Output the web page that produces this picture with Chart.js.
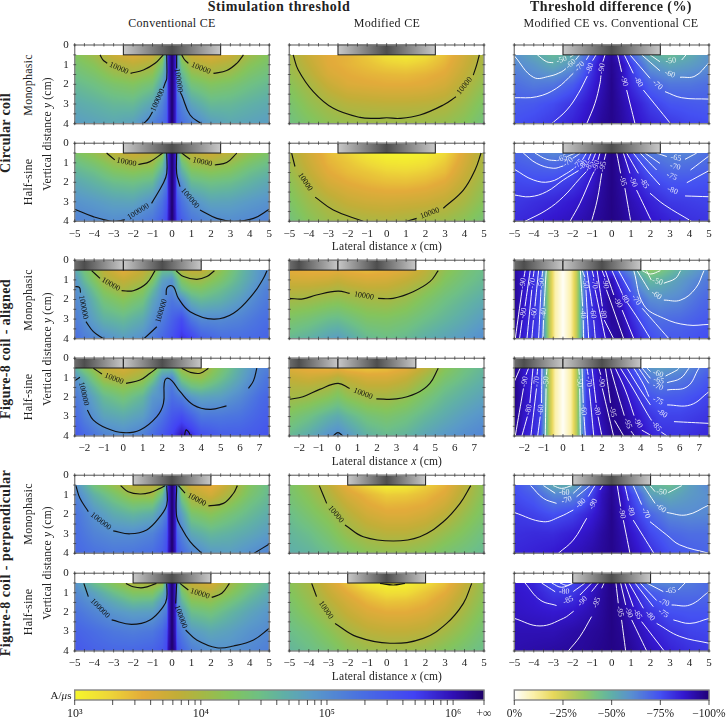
<!DOCTYPE html>
<html><head><meta charset="utf-8">
<script src="https://cdn.jsdelivr.net/npm/chart.js@4"></script>
<style>
html,body{margin:0;padding:0;background:#fff}
#page{position:relative;width:726px;height:719px;overflow:hidden;font-family:"Liberation Serif",serif;color:#222}
canvas{position:absolute}
.t{position:absolute;white-space:nowrap;transform:translate(-50%,-50%)}
.r{transform:translate(-50%,-50%) rotate(-90deg)}
</style></head><body><div id="page"></div>
<script>
// ---------- axes / categories ----------
const xTicksSym=[-5,5], xTicksAligned=[-2.5,7.5];
const rowNames=['Monophasic','Half-sine','Monophasic','Half-sine','Monophasic','Half-sine'];
const columnNames=['Conventional CE','Modified CE','Modified CE vs. Conventional CE'];
const coilNames=['Circular coil','Figure-8 coil - aligned','Figure-8 coil - perpendicular'];
const coilCircular=[[-2.5,2.5,0,2.5]];
const coilAligned=[[-2.5,0,-2,2],[0,4,2,2]];
const coilPerp=[[-2,2,0,2]];
const thresholdTicks=[1e3,2e3,3e3,4e3,5e3,6e3,7e3,8e3,9e3,1e4,2e4,3e4,4e4,5e4,6e4,7e4,8e4,9e4,1e5,2e5,3e5,4e5,5e5,6e5,7e5,8e5,9e5,1e6,1758000];
const thresholdLabels={1000:'10³',10000:'10⁴',100000:'10⁵',1000000:'10⁶',1758000:'+∞'};
const differenceTicks=[0,-25,-50,-75,-100];
const thresholdStops=[[0,'#f6f72c'],[.08,'#eed838'],[.17,'#e3ab3a'],[.25,'#c2ae38'],[.31,'#a6b845'],[.38,'#84c45c'],[.45,'#6fc084'],[.51,'#60b0a6'],[.58,'#5a9ac8'],[.7,'#4a70e2'],[.83,'#4242f4'],[.925,'#3010b4'],[1,'#1e0068']];
const differenceStops=[[0,'#ffffff'],[.1,'#fbf0a8'],[.2,'#e8d85c'],[.27,'#c6cc58'],[.36,'#96c864'],[.43,'#74c288'],[.5,'#60b0a8'],[.6,'#5a90d0'],[.75,'#4450f2'],[.87,'#3418d0'],[1,'#200078']];

// ---------- heat grids ----------
const ysT=[.5,1,1.5,2,3,4];
const ysD=[.5,1,2,3,4];
const xsC=[-5,-4,-3,-2,-1,-.5,-.27,-.2,0,.2,.27,.5,1,2,3,4,5];
const xsA=[-2.5,-2,-1,0,1,1.5,2,2.5,3,3.5,4,5,6,7,7.5];
const xsM=[-5,-4,-3,-2,-1,0,1,2,3,4,5];
const xsB=[-2.5,-1.5,-.5,0,.5,1.5,2.5,3.5,4.5,5.5,6.5,7.5];
const xsD=[-5,-4,-3,-2,-1.5,-1,-.5,0,.5,1,1.5,2,3,4,5];
const xsE=[-2.5,-2,-1.5,-1.2,-.9,-.7,-.4,0,.4,.7,.9,1.2,1.5,2,2.5,3,3.5,4,4.5,5,6,7,7.5];
const logCircMonoConv=[
[4.25,4.05,3.75,3.6,3.75,4.0,5.0,5.85,6.24,5.85,5.0,4.0,3.75,3.6,3.75,4.05,4.25],
[4.35,4.2,3.95,3.85,3.95,4.35,5.0,5.85,6.24,5.85,5.0,4.35,3.95,3.85,3.95,4.2,4.35],
[4.45,4.33,4.13,4.03,4.18,4.6,5.0,5.85,6.24,5.85,5.0,4.6,4.18,4.03,4.13,4.33,4.45],
[4.55,4.45,4.32,4.25,4.4,4.8,5.15,5.85,6.24,5.85,5.1,4.78,4.4,4.25,4.32,4.45,4.55],
[4.72,4.65,4.57,4.55,4.78,5.1,5.35,5.85,6.24,5.85,5.35,5.1,4.78,4.55,4.57,4.65,4.72],
[4.85,4.8,4.75,4.82,5.1,5.3,5.45,5.85,6.24,5.85,5.45,5.3,5.1,4.85,4.75,4.8,4.85]];
const logCircHalfConv=[
[4.3,4.12,3.88,3.72,3.85,4.02,5.0,5.85,6.24,5.85,5.0,4.02,3.85,3.72,3.88,4.12,4.3],
[4.48,4.32,4.1,3.98,4.05,4.45,5.0,5.85,6.24,5.85,5.0,4.45,4.05,3.98,4.1,4.32,4.48],
[4.62,4.5,4.3,4.22,4.32,4.7,5.0,5.85,6.24,5.85,5.0,4.7,4.32,4.22,4.3,4.5,4.62],
[4.75,4.63,4.5,4.45,4.55,4.95,5.2,5.85,6.24,5.85,5.2,4.95,4.55,4.45,4.5,4.63,4.75],
[4.95,4.88,4.8,4.78,4.97,5.25,5.5,5.85,6.24,5.85,5.5,5.25,4.97,4.78,4.8,4.88,4.95],
[5.1,5.05,5.0,5.05,5.22,5.45,5.65,5.9,6.24,5.9,5.65,5.45,5.22,5.05,5.0,5.05,5.1]];
const logCircMonoMod=[
[4.0,3.75,3.55,3.5,3.35,3.18,3.1,3.2,3.42,3.7,3.98],
[4.05,3.82,3.58,3.5,3.42,3.32,3.28,3.35,3.5,3.75,4.02],
[4.12,3.9,3.65,3.55,3.5,3.47,3.45,3.5,3.58,3.82,4.07],
[4.2,4.0,3.77,3.62,3.58,3.55,3.55,3.58,3.68,3.9,4.15],
[4.35,4.15,4.0,3.9,3.87,3.85,3.85,3.87,3.92,4.08,4.3],
[4.45,4.3,4.17,4.1,4.08,4.08,4.08,4.08,4.12,4.23,4.42]];
const logCircHalfMod=[
[3.97,3.7,3.45,3.3,3.12,3.03,3.02,3.06,3.25,3.62,3.97],
[4.03,3.75,3.5,3.38,3.25,3.15,3.13,3.18,3.35,3.68,4.0],
[4.1,3.82,3.57,3.45,3.38,3.3,3.28,3.33,3.45,3.75,4.05],
[4.18,3.92,3.67,3.55,3.48,3.43,3.42,3.47,3.58,3.83,4.1],
[4.3,4.08,3.92,3.78,3.72,3.7,3.72,3.75,3.83,4.0,4.22],
[4.42,4.22,4.08,4.02,3.98,3.95,3.99,4.03,4.08,4.2,4.38]];
const logAlignMonoConv=[
[4.75,4.4,3.85,3.55,3.8,3.97,4.5,4.5,3.9,3.8,3.8,4.15,4.55,4.9,5.02],
[4.95,4.55,3.97,3.8,3.95,4.25,4.8,4.95,4.25,4.05,4.05,4.3,4.62,4.93,5.05],
[5.02,4.75,4.2,3.98,4.2,4.55,4.95,5.05,4.55,4.35,4.3,4.5,4.72,5.03,5.15],
[5.05,4.88,4.38,4.2,4.4,4.75,5.0,5.2,5.0,4.65,4.55,4.65,4.85,5.1,5.2],
[5.15,4.98,4.65,4.55,4.72,4.97,5.15,5.4,5.6,5.2,5.03,5.02,5.1,5.25,5.3],
[5.3,5.15,4.98,4.85,4.98,5.15,5.35,5.55,5.8,5.7,5.45,5.3,5.3,5.35,5.4]];
const logAlignHalfConv=[
[4.65,4.3,3.8,3.65,3.85,3.98,4.5,4.5,4.0,3.9,3.88,4.3,4.7,5.05,5.15],
[4.97,4.65,4.0,3.88,4.05,4.35,4.9,5.05,4.35,4.15,4.1,4.45,4.78,5.12,5.25],
[5.1,4.85,4.32,4.15,4.35,4.7,5.0,5.2,4.75,4.5,4.45,4.65,4.9,5.2,5.3],
[5.18,5.0,4.55,4.38,4.6,4.9,4.97,5.3,5.15,4.9,4.8,4.85,5.03,5.3,5.38],
[5.35,5.12,4.8,4.72,4.85,5.05,5.25,5.5,5.6,5.4,5.2,5.2,5.25,5.4,5.45],
[5.5,5.35,5.1,5.02,5.12,5.3,5.5,5.7,6.0,5.85,5.6,5.45,5.45,5.5,5.55]];
const logAlignMonoMod=[
[3.55,3.5,3.5,3.55,3.5,3.45,3.5,3.6,3.85,4.15,4.35,4.5],
[3.7,3.68,3.72,3.78,3.72,3.65,3.68,3.8,3.95,4.25,4.42,4.55],
[3.87,3.88,3.93,3.97,3.92,3.85,3.85,3.95,4.15,4.35,4.5,4.62],
[4.02,4.05,4.12,4.15,4.1,4.03,4.0,4.1,4.28,4.45,4.58,4.7],
[4.3,4.38,4.5,4.52,4.45,4.3,4.28,4.35,4.48,4.6,4.72,4.85],
[4.55,4.65,4.8,4.85,4.75,4.55,4.48,4.55,4.68,4.78,4.88,5.0]];
const logAlignHalfMod=[
[3.6,3.5,3.45,3.5,3.42,3.38,3.42,3.55,3.85,4.2,4.42,4.58],
[3.8,3.72,3.8,3.9,3.78,3.65,3.65,3.78,4.05,4.32,4.5,4.65],
[3.93,3.92,4.0,4.12,3.98,3.85,3.85,3.95,4.2,4.45,4.6,4.72],
[4.02,4.07,4.2,4.3,4.17,4.03,4.02,4.13,4.35,4.55,4.68,4.8],
[4.3,4.45,4.65,4.72,4.6,4.4,4.32,4.42,4.58,4.72,4.85,4.95],
[4.55,4.72,4.95,5.02,4.9,4.65,4.55,4.62,4.78,4.9,5.0,5.08]];
const logPerpMonoConv=[
[5.0,4.4,4.1,3.85,3.85,3.98,5,5.85,6.24,5.85,5,4.0,3.7,3.5,3.85,4.25,4.5],
[5.1,4.65,4.35,4.05,4.03,4.5,5,5.85,6.24,5.85,5,4.3,3.9,3.7,4.0,4.33,4.55],
[5.2,4.8,4.55,4.35,4.4,4.8,5,5.85,6.24,5.85,5,4.6,4.1,3.97,4.2,4.45,4.62],
[5.25,4.95,4.72,4.6,4.7,5.0,5.2,5.85,6.24,5.85,5.05,4.85,4.35,4.2,4.38,4.55,4.7],
[5.3,5.1,5.0,5.0,5.1,5.3,5.5,5.85,6.24,5.85,5.35,5.1,4.75,4.58,4.65,4.75,4.87],
[5.35,5.25,5.2,5.22,5.3,5.45,5.6,5.9,6.24,5.9,5.5,5.35,5.1,4.88,4.85,4.97,5.08]];
const logPerpHalfConv=[
[4.95,4.5,4.2,3.95,3.95,4.05,5,5.85,6.24,5.85,5,4.02,3.78,3.65,4.02,4.35,4.6],
[5.05,4.8,4.5,4.25,4.25,4.6,5,5.85,6.24,5.85,5,4.4,4.0,3.92,4.2,4.5,4.72],
[5.15,4.95,4.75,4.55,4.6,4.9,5,5.85,6.24,5.85,5,4.65,4.25,4.18,4.42,4.65,4.82],
[5.25,5.08,4.92,4.83,4.85,5.05,5.2,5.85,6.24,5.85,5.1,4.9,4.5,4.4,4.6,4.78,4.92],
[5.4,5.3,5.2,5.15,5.2,5.35,5.55,5.9,6.24,5.9,5.35,5.15,4.88,4.75,4.83,4.95,5.03],
[5.5,5.4,5.35,5.35,5.4,5.5,5.65,6.0,6.24,6.0,5.55,5.4,5.15,4.98,4.97,5.05,5.15]];
const logPerpMonoMod=[
[4.32,4.1,3.85,3.5,3.25,3.05,3.1,3.3,3.5,3.85,4.2],
[4.36,4.18,3.95,3.65,3.48,3.33,3.35,3.45,3.6,3.92,4.22],
[4.42,4.25,4.05,3.78,3.58,3.48,3.5,3.55,3.72,4.0,4.28],
[4.5,4.33,4.15,3.9,3.7,3.6,3.6,3.68,3.85,4.1,4.32],
[4.6,4.5,4.33,4.1,3.95,3.88,3.88,3.95,4.12,4.28,4.45],
[4.68,4.62,4.5,4.33,4.2,4.15,4.15,4.22,4.35,4.45,4.55]];
const logPerpHalfMod=[
[4.2,4.0,3.7,3.4,3.12,3.02,3.05,3.2,3.42,3.78,4.15],
[4.25,4.07,3.8,3.55,3.35,3.2,3.22,3.38,3.55,3.87,4.17],
[4.32,4.13,3.9,3.68,3.5,3.4,3.42,3.5,3.68,3.95,4.22],
[4.38,4.2,4.0,3.78,3.62,3.55,3.55,3.62,3.78,4.03,4.28],
[4.5,4.38,4.2,4.0,3.87,3.82,3.82,3.87,4.02,4.2,4.4],
[4.6,4.5,4.38,4.2,4.1,4.07,4.07,4.12,4.25,4.38,4.5]];
const diffCircMono=[
[60,53,47,52,64,75,87,95,85,71,60,50,46,51,59],
[62,58,52,58,68,80,91,96,91,79,68,58,53,56,60],
[68,65,66,72,78,85,91,97,91,83,77,71,66,66,68],
[72,73,76,81,85,89,93,97,93,88,84,79,74,73,72],
[75,77,80,85,88,91,95,97,94,90,87,84,80,77,76]];
const diffCircHalf=[
[70,66,62,65,71,80,92,98,93,79,68,65,63,63,69],
[72,70,68,71,77,85,93,98,93,84,76,70,66,67,69],
[77,76,77,80,84,88,94,98,94,87,83,78,74,74,75],
[80,82,84,87,89,92,95,98,95,91,88,85,80,79,78],
[83,85,88,90,92,94,96,98,96,93,91,88,85,82,81]];
const diffPerpMono=[
[75,67,52,52,62,73,87,96,86,69,58,49,45,55,62],
[76,72,62,62,68,78,90,96,90,78,68,55,52,57,60],
[80,78,75,78,82,86,91,97,91,83,76,70,62,61,62],
[82,83,83,86,88,90,94,97,93,88,83,77,70,68,68],
[84,85,87,90,91,93,95,97,94,91,87,82,75,72,70]];
const diffPerpHalf=[
[87,84,75,77,81,87,93,98,92,82,72,63,62,65,69],
[88,86,80,80,84,89,94,98,93,87,80,73,68,68,69],
[89,88,87,88,90,92,95,98,95,90,85,81,75,74,74],
[91,91,91,93,94,95,96,98,96,93,90,86,81,78,77],
[92,93,94,95,95,96,97,98,97,95,92,90,85,82,80]];
const diffAlignMono=[
[94,88,82,78,50,30,10,1,10,27,48,76,82,88,79,68,60,45,37,40,50,58,62],
[95,88,82,78,50,30,10,1,10,28,48,76,82,88,91,78,68,55,47,49,56,63,66],
[96,88,82,78,50,30,10,1,10,28,48,76,82,90,95,88,77,68,61,60,62,68,70],
[96,87,82,78,50,30,10,1,10,28,48,76,82,88,95,93,84,76,70,68,69,72,73],
[95,85,80,77,50,30,10,1,10,28,48,76,80,85,93,96,90,82,76,73,73,75,76]];
const diffAlignHalf=[
[97,88,84,80,52,30,10,1,10,30,52,78,82,96,92,84,77,67,58,56,59,66,70],
[97,88,84,80,52,30,10,1,10,30,52,78,84,92,96,88,80,73,65,62,65,70,73],
[98,90,84,80,52,30,10,1,10,30,52,78,84,92,97,93,86,80,74,72,73,76,78],
[98,88,84,80,52,30,10,1,10,30,52,78,84,92,97,96,91,86,81,78,78,80,81],
[97,87,83,79,51,30,10,1,10,30,52,78,83,90,96,97,95,90,85,82,81,83,84]];

// ---------- contour lines: [level, segment, segment after the label gap] ----------
const cCircMonoConv=[
['10000',[[-3.7,.5],[-3.55,.75],[-3.33,.93]],[[-2.13,1.44],[-1.47,1.27],[-.87,.93],[-.45,.5]]],
['10000',[[.5,.5],[.65,.75],[.84,.93]],[[2.13,1.44],[2.81,1.3],[3.33,.93],[3.67,.5]]],
['100000',[[-.27,.5],[-.27,1.7],[-.36,1.95],[-.45,2.2]],[[-1,3.4],[-1.2,3.73],[-1.47,4]]],
['100000',[[.24,.5],[.24,1.2]],[[.42,2.4],[.5,2.54],[.93,3.56],[1.5,4]]]];
const cCircHalfConv=[
['10000',[[-3.36,.5],[-2.94,.85]],[[-1.73,1.09],[-1.13,.94],[-.48,.5]]],
['10000',[[.5,.5],[.93,.82]],[[2.2,1.11],[2.81,.99],[3.33,.5]]],
['100000',[[-5,3.38],[-4.05,3.76],[-3.02,4],[-2.42,3.93]],[[-1.05,3.08],[-.45,2.05],[-.27,1.54],[-.27,.5]]],
['100000',[[.24,.5],[.24,1.54],[.41,2.22]],[[1.44,3.42],[2.3,3.85],[3.16,4],[4.19,3.85],[5,3.38]]]];
const cCircMonoMod=[
['10000',[[-4.8,.5],[-4.54,1.27],[-3.77,2.37],[-2.74,3.22],[-1.37,3.68],[-.5,3.73],[0,3.7],[.68,3.73],[1.71,3.56],[2.91,3.05],[3.56,2.63]],[[4.45,1.53],[4.62,1.02],[4.76,.5]]]];
const cCircHalfMod=[
['10000',[[-4.88,.5],[-4.71,1.19]],[[-3.67,2.76],[-2.74,3.42],[-1.2,4]]],
['10000',[[1.03,4],[1.54,3.85]],[[2.91,3.33],[3.94,2.4],[4.54,1.37],[4.85,.5]]]];
const cAlignMonoConv=[
['10000',[[-1.63,.53],[-1.2,.92]],[[-.09,1.55],[.51,1.55],[1.2,1.17],[1.63,.53]]],
['',[[2.71,.53],[3.09,.83],[3.77,.97],[4.29,.83],[4.68,.53]]],
['100000',[[-2.5,1.34],[-2.26,1.38],[-2.2,1.65]],[[-1.92,3.13],[-1.54,3.64],[-1.03,4]]],
['100000',[[1.06,4],[1.72,3.39]],[[2.2,1.77],[2.23,1.43],[2.4,1.29],[2.6,1.38],[2.83,1.94],[3.43,2.62],[4.63,3.0],[5.66,2.7],[6.69,1.69],[7.2,.92],[7.38,.53]]]];
const cAlignHalfConv=[
['10000',[[-1.54,.51],[-1.1,.81]],[[.14,1.29],[.86,1.12],[1.37,.77],[1.71,.51]]],
['',[[3,.51],[3.43,.72],[3.95,.77],[4.37,.51]]],
['100000',[[-2.5,1.15],[-2.23,.98]],[[-1.85,2.66],[-1.54,3.18],[-.86,3.6],[0,3.83],[.86,3.69],[1.72,3],[2.06,2.32],[2.1,1.29],[2.23,1.03],[2.49,1.15],[2.92,1.72],[3.6,2.4],[4.46,2.63],[5.3,2.45]],[[6.43,1.55],[6.69,1.15],[6.86,.51]]],
['',[[3.14,4],[3.22,3.69],[3.34,3.78],[3.46,4]]]];
const cAlignMonoMod=[
['10000',[[-2.5,1.94],[-1.8,1.97],[-1.11,1.77],[0,1.57],[.6,1.69]],[[2.06,1.94],[2.83,1.94],[3.86,1.6],[4.72,1.09],[5.15,.53]]]];
const cAlignHalfMod=[
['10000',[[-2.5,2.11],[-1.8,1.98],[-.94,1.6],[0,1.29],[.6,1.55]],[[1.97,2.09],[3,2.09],[4.03,1.8],[4.72,1.29],[5.15,.51]]],
['',[[-.26,4],[0,3.83],[.26,4]]]];
const cPerpMonoConv=[
['',[[-2.64,.53],[-2.25,.84],[-1.65,.96],[-1.13,.89],[-.62,.67],[-.36,.53]]],
['10000',[[.33,.53],[.67,.92]],[[1.87,1.57],[2.64,1.44],[3.16,.92],[3.36,.53]]],
['100000',[[-4.94,.53],[-4.73,1.18],[-4.3,1.86]],[[-3.02,2.85],[-2.16,3],[-1.3,2.8],[-.62,2.12],[-.27,1.52],[-.27,.53]]],
['',[[.24,.53],[.24,2.12],[.5,2.72],[.93,3.4],[1.53,4]]],
['',[[4.22,4],[5,3.52]]]];
const cPerpHalfConv=[
['',[[-2.37,.52],[-2,.69],[-1.48,.74],[-.8,.52]]],
['10000',[[.41,.52],[.84,.86]],[[2.04,1.24],[2.56,1.03],[2.95,.52]]],
['100000',[[-4.53,.52],[-4.3,1.2]],[[-3.1,2.4],[-2.08,2.63],[-1.13,2.4],[-.45,1.72],[-.27,1.29],[-.27,.52]]],
['100000',[[.24,.52],[.19,1.55]],[[.7,2.92],[1.27,3.43],[2.3,3.83],[3.16,3.74],[4.19,3.43],[5,2.83]]]];
const cPerpMonoMod=[
['10000',[[-3.46,.53],[-3.08,1.44]],[[-2.14,2.55],[-1.2,3.15],[.34,3.37],[1.71,3.15],[2.91,2.38],[3.77,1.44],[4.32,.53]]]];
const cPerpHalfMod=[
['10000',[[-3.85,.52],[-3.6,1.2]],[[-2.65,2.58],[-1.54,3.26],[.17,3.6],[1.88,3.35],[3.08,2.58],[3.94,1.55],[4.37,.52]]],
['',[[-.34,.52],[.34,.6],[.94,.52]]]];
const cDiffCircMono=[
['-50',[[-3.82,.5],[-3.34,.85],[-3,.9]],[[-2.14,.62],[-1.95,.5]]],
['-60',[[-5,.55],[-4.02,1.64],[-3.17,1.58],[-2.57,1.36],[-2.35,1.2]],[[-1.85,.75],[-1.65,.5]]],
['-70',[[-5,2.68],[-3.85,2.63],[-2.83,2.2],[-1.97,1.44]],[[-1.3,.75],[-1.15,.5]]],
['-80',[[-3.08,4],[-2.3,3.3],[-1.71,2.46],[-1.25,1.58]],[[-.98,.8],[-.8,.5]]],
['-90',[[-1.28,4],[-.86,2.97],[-.6,1.95],[-.55,1.55]],[[-.45,.85],[-.34,.5]]],
['-90',[[.31,.5],[.51,1.36]],[[.77,2.29],[1.2,4]]],
['-80',[[.65,.5],[1.11,1.44]],[[1.63,2.29],[3.03,4]]],
['-70',[[.94,.5],[1.97,1.69]],[[2.74,2.37],[3.6,2.68],[5,2.75]]],
['-60',[[1.54,.5],[2.48,1.31]],[[3.51,1.64],[4.28,1.58],[5,.9]]],
['-50',[[1.97,.5],[2.48,.85]],[[3.6,.76],[3.82,.5]]]];
const cDiffCircHalf=[
['-65',[[-3.94,.5],[-3.34,.82],[-2.83,.89]],[[-2.28,.68],[-1.88,.5]]],
['-70',[[-4.54,.5],[-3.85,1.03],[-3,1.28],[-2.48,1.16]],[[-2,.77],[-1.6,.5]]],
['-75',[[-5,1.33],[-4.02,1.88],[-3.17,1.97],[-2.31,1.54],[-1.95,1.3]],[[-1.5,.85],[-1.3,.5]]],
['-80',[[-5,2.65],[-4.2,2.74],[-3.34,2.48],[-2.48,1.88],[-1.7,1.4]],[[-1.2,.85],[-1.05,.5]]],
['-85',[[-4.45,4],[-3.34,3.42],[-2.48,2.74],[-1.63,1.8],[-1.3,1.45]],[[-.98,.9],[-.82,.5]]],
['-90',[[-2.14,4],[-1.63,3.08],[-1.03,1.71],[-.9,1.45]],[[-.7,.85],[-.6,.5]]],
['-95',[[-1.03,4],[-.74,2.9],[-.51,1.54]],[[-.38,.85],[-.29,.5]]],
['-95',[[.26,.5],[.46,1.54]],[[.68,2.3],[.98,4]]],
['-90',[[.6,.5],[.94,1.54]],[[1.28,2.4],[2.05,4]]],
['-85',[[.77,.5],[1.37,1.54]],[[1.97,2.56],[2.7,3.15],[4.1,4]]],
['-80',[[1.11,.5],[1.8,1.37],[2.48,2.14]],[[3.77,2.7],[5,2.74]]],
['-75',[[1.46,.5],[2.31,1.37]],[[3.86,2.02],[5,1.4]]],
['-70',[[1.71,.5],[2.48,1.03]],[[4.05,1.37],[5,.65]]],
['-65',[[2.31,.5],[2.83,.68]],[[3.77,.82],[4.37,.5]]]];
const cDiffPerpMono=[
['',[[-3,.53],[-2.57,.67],[-2.05,.53]]],
['-60',[[-3.5,.53],[-2.9,.92]],[[-1.97,.92],[-1.54,.53]]],
['-70',[[-4.16,.53],[-3.51,1.18],[-2.83,1.44]],[[-1.8,1.1],[-1.11,.53]]],
['-80',[[-5,1.91],[-3.51,2.38],[-2.65,2.12],[-1.97,1.78]],[[-1.2,1.09],[-.86,.53]]],
['-90',[[-2.74,4],[-1.97,3.32],[-1.28,2.2]],[[-.6,.75],[-.46,.53]]],
['-90',[[.29,.53],[.46,1.6]],[[.6,2.3],[.94,4]]],
['-80',[[.68,.53],[.86,1.3]],[[1.11,2.3],[2.17,4]]],
['-70',[[1.11,.53],[1.54,1.5]],[[1.97,2.38],[2.83,3.06],[3.5,3.57],[5,4]]],
['-60',[[1.63,.53],[2.23,1.44]],[[2.83,1.91],[3.85,2.03],[5,1.52]]],
['-50',[[1.97,.53],[2.23,.84]],[[2.91,.89],[3.6,.53]]]];
const cDiffPerpHalf=[
['',[[-3.08,.5],[-2.57,.72],[-1.97,.5]]],
['',[[-2.65,.5],[-2.3,.62],[-1.97,.5]]],
['-80',[[-3.6,.5],[-2.9,.95]],[[-1.97,.94],[-1.37,.5]]],
['-85',[[-4.45,.5],[-3.68,1.37],[-2.83,1.66]],[[-1.63,1.12],[-1.03,.5]]],
['-90',[[-5,2.32],[-3.68,2.71],[-2.48,2.32],[-1.95,1.95]],[[-1.03,.94],[-.68,.5]]],
['-95',[[-2.23,4],[-1.63,3.26],[-1.03,2.23]],[[-.51,.77],[-.39,.5]]],
['-95',[[.22,.5],[.34,1.54]],[[.51,2.4],[.72,4]]],
['-90',[[.46,.5],[.72,1.63]],[[1.03,2.4],[1.8,4]]],
['-85',[[.68,.5],[1.11,1.72]],[[1.54,2.49],[2.7,4]]],
['-80',[[.89,.5],[1.63,1.8]],[[2.31,2.58],[3.5,3.25],[5,3.6]]],
['-75',[[1.2,.5],[2.14,1.72]],[[3.17,2.4],[4.02,2.58],[5,2.32]]],
['-70',[[1.46,.5],[2.31,1.4]],[[3.08,1.63],[4.02,1.63],[5,.94]]],
['-65',[[1.8,.5],[2.65,.94]],[[3.42,.86],[3.77,.5]]]];
const cDiffAlignMono=[
['-90',[[-1.94,.5],[-2.0,.85]],[[-2.1,1.5],[-2.45,4]]],
['-80',[[-1.68,.5],[-1.95,2.35]],[[-2.1,3.05],[-2.23,4]]],
['-70',[[-1.48,.5],[-1.53,.85]],[[-1.6,1.5],[-1.85,4]]],
['-60',[[-1.25,.5],[-1.44,2.35]],[[-1.52,3.05],[-1.6,4]]],
['-50',[[-1.03,.5],[-1.08,.85]],[[-1.13,1.5],[-1.25,4]]],
['-40',[[-.86,.5],[-.97,2.35]],[[-1,3.05],[-1.03,4]]],
['-40',[[.89,.5],[1.01,2.35]],[[1.04,3.05],[1.06,4]]],
['-50',[[.98,.5],[1.12,.85]],[[1.18,1.5],[1.32,4]]],
['-60',[[1.23,.5],[1.5,2.35]],[[1.58,3.05],[1.66,4]]],
['-70',[[1.49,.5],[1.58,.85]],[[1.65,1.5],[2.18,4]]],
['-80',[[1.75,.5],[2.02,2.35]],[[2.12,3.05],[2.6,4]]],
['-90',[[2,.5],[2.14,.85]],[[2.23,1.5],[3.12,4]]],
['-90',[[2.18,.53],[2.61,1.77]],[[3.04,2.54],[3.64,4]]],
['-80',[[2.52,.53],[3.04,1.69]],[[3.3,2.15],[3.9,3.05],[4.49,4]]],
['-70',[[2.86,.53],[3.46,1.6]],[[4.07,2.45],[5.44,4]]],
['',[[3.64,.53],[4.15,2.28],[5.18,2.96],[6.38,3.3],[7.5,3.27]]],
['-60',[[3.81,.53],[4.41,1.51]],[[5.18,2.03],[6.04,2.03],[6.81,1.43],[7.24,.53]]],
['-50',[[4.29,.53],[4.53,1]],[[5.18,1.17],[5.78,.92],[6.04,.53]]],
['',[[4.07,.53],[4.49,.7],[5,.53]]]];
const cDiffAlignHalf=[
['',[[-2.5,1.2],[-2.2,.51]]],
['-90',[[-1.77,.51],[-1.9,.85]],[[-2.03,1.55],[-2.45,4]]],
['-80',[[-1.54,.51],[-1.7,2.3]],[[-1.83,3],[-2.11,4]]],
['-70',[[-1.3,.51],[-1.33,.85]],[[-1.36,1.55],[-1.65,4]]],
['-60',[[-1.08,.51],[-1.1,2.3]],[[-1.17,3],[-1.3,4]]],
['-50',[[-.82,.51],[-.85,.85]],[[-.87,1.55],[-.91,4]]],
['-50',[[.81,.51],[.84,.85]],[[.86,1.55],[.89,4]]],
['-60',[[.98,.51],[1.04,2.3]],[[1.08,3],[1.15,4]]],
['-70',[[1.23,.51],[1.29,.85]],[[1.35,1.55],[1.58,4]]],
['-80',[[1.49,.51],[1.7,2.3]],[[1.8,3],[2,4]]],
['-90',[[1.84,.51],[1.94,.85]],[[2.02,1.55],[2.6,4]]],
['-95',[[2.18,.51],[2.44,2.3]],[[2.65,3.2],[3.12,4]]],
['-95',[[2.44,.51],[2.78,1.72],[3.15,2.95]],[[3.5,3.75],[3.67,4]]],
['-90',[[2.69,.51],[3.2,1.63],[3.65,2.95]],[[4.05,3.7],[4.58,4]]],
['-85',[[2.95,.51],[3.64,1.63],[4.32,2.83],[4.55,3.2]],[[5.05,3.8],[5.35,4]]],
['-80',[[3.29,.51],[3.98,1.63],[4.49,2.4]],[[5.7,3.26],[7.5,3.35]]],
['-75',[[3.64,.51],[4.15,1.37],[4.41,1.97]],[[5.35,2.4],[6.55,2.4],[7.5,1.72]]],
['-70',[[3.89,.51],[4.41,1.29]],[[5.35,1.63],[6.38,1.46],[6.98,.51]]],
['-65',[[4.07,.51],[4.49,1.03]],[[5.35,1.25],[6.04,1.03],[6.47,.51]]],
['-60',[[4.32,.51],[4.5,.68]],[[5.27,.91],[5.87,.6],[5.95,.51]]]];

// ---------- panel table ----------
const panels=[
[0,0,'t',xsC,ysT,logCircMonoConv,cCircMonoConv,coilCircular,xTicksSym],
[0,1,'t',xsM,ysT,logCircMonoMod,cCircMonoMod,coilCircular,xTicksSym],
[0,2,'d',xsD,ysD,diffCircMono,cDiffCircMono,coilCircular,xTicksSym],
[1,0,'t',xsC,ysT,logCircHalfConv,cCircHalfConv,coilCircular,xTicksSym],
[1,1,'t',xsM,ysT,logCircHalfMod,cCircHalfMod,coilCircular,xTicksSym],
[1,2,'d',xsD,ysD,diffCircHalf,cDiffCircHalf,coilCircular,xTicksSym],
[2,0,'t',xsA,ysT,logAlignMonoConv,cAlignMonoConv,coilAligned,xTicksAligned],
[2,1,'t',xsB,ysT,logAlignMonoMod,cAlignMonoMod,coilAligned,xTicksAligned],
[2,2,'d',xsE,ysD,diffAlignMono,cDiffAlignMono,coilAligned,xTicksAligned],
[3,0,'t',xsA,ysT,logAlignHalfConv,cAlignHalfConv,coilAligned,xTicksAligned],
[3,1,'t',xsB,ysT,logAlignHalfMod,cAlignHalfMod,coilAligned,xTicksAligned],
[3,2,'d',xsE,ysD,diffAlignHalf,cDiffAlignHalf,coilAligned,xTicksAligned],
[4,0,'t',xsC,ysT,logPerpMonoConv,cPerpMonoConv,coilPerp,xTicksSym],
[4,1,'t',xsM,ysT,logPerpMonoMod,cPerpMonoMod,coilPerp,xTicksSym],
[4,2,'d',xsD,ysD,diffPerpMono,cDiffPerpMono,coilPerp,xTicksSym],
[5,0,'t',xsC,ysT,logPerpHalfConv,cPerpHalfConv,coilPerp,xTicksSym],
[5,1,'t',xsM,ysT,logPerpHalfMod,cPerpHalfMod,coilPerp,xTicksSym],
[5,2,'d',xsD,ysD,diffPerpHalf,cDiffPerpHalf,coilPerp,xTicksSym]];

// ---------- layout ----------
const colL=[74.7,289.3,514.3], colR=[269.3,484,709];
const rowT=[45,143.3,260.3,358.3,475.3,573.3], rowB=[123.7,221.3,338.7,436,553.3,651];
const FONT='"Liberation Serif"';
const page=document.getElementById('page');
Chart.defaults.font.family=FONT;

function hex(h){return [parseInt(h.slice(1,3),16),parseInt(h.slice(3,5),16),parseInt(h.slice(5,7),16)]}
function lut(stops){const out=[];let k=0;for(let i=0;i<=512;i++){const t=i/512;while(k<stops.length-2&&t>stops[k+1][0])k++;
 const a=stops[k],b=stops[k+1],f=Math.min(1,Math.max(0,(t-a[0])/(b[0]-a[0]))),A=hex(a[1]),B=hex(b[1]);
 out.push([A[0]+(B[0]-A[0])*f,A[1]+(B[1]-A[1])*f,A[2]+(B[2]-A[2])*f]);}return out}
const lutT=lut(thresholdStops), lutD=lut(differenceStops);
function bracket(a,v){let i=0;while(i<a.length-2&&v>a[i+1])i++;const f=Math.min(1,Math.max(0,(v-a[i])/(a[i+1]-a[i])));return [i,f]}

const panelPlugin={id:'panelPlugin',
 beforeDatasetsDraw(chart){
  const g=chart.data.datasets[0].grid, ca=chart.chartArea, X=chart.scales.x, Y=chart.scales.y, ctx=chart.ctx;
  const x0=Math.round(ca.left),y0=Math.round(ca.top),w=Math.round(ca.right)-x0,h=Math.round(ca.bottom)-y0;
  const img=ctx.createImageData(w,h), table=g.kind==='t'?lutT:lutD;
  for(let j=0;j<h;j++){const yv=Y.getValueForPixel(y0+j+.5); if(yv<.5)continue; const [yi,yf]=bracket(g.ys,yv);
   for(let i=0;i<w;i++){const xv=X.getValueForPixel(x0+i+.5); const [xi,xf]=bracket(g.xs,xv);
    const v=(g.z[yi][xi]*(1-xf)+g.z[yi][xi+1]*xf)*(1-yf)+(g.z[yi+1][xi]*(1-xf)+g.z[yi+1][xi+1]*xf)*yf;
    const t=g.kind==='t'?(v-3)/3.245:v/100, c=table[Math.round(Math.min(1,Math.max(0,t))*512)], p=(j*w+i)*4;
    img.data[p]=c[0];img.data[p+1]=c[1];img.data[p+2]=c[2];img.data[p+3]=255;}}
  ctx.putImageData(img,x0,y0);
 },
 afterDatasetsDraw(chart){
  const ctx=chart.ctx, ca=chart.chartArea, X=chart.scales.x, Y=chart.scales.y, o=chart.data.datasets[0];
  ctx.save();ctx.textAlign='center';ctx.textBaseline='middle';
  ctx.font='8px '+FONT;ctx.fillStyle=o.grid.kind==='t'?'#111':'rgba(255,255,255,.85)';
  o.contours.forEach(c=>{ if(!c[0]||c.length<3)return; const a=c[1][c[1].length-1],b=c[2][0];
   const ax=X.getPixelForValue(a[0]),ay=Y.getPixelForValue(a[1]),bx=X.getPixelForValue(b[0]),by=Y.getPixelForValue(b[1]);
   let ang=Math.atan2(by-ay,bx-ax); if(ang>Math.PI/2)ang-=Math.PI; if(ang<=-Math.PI/2)ang+=Math.PI;
   ctx.save();ctx.translate((ax+bx)/2,(ay+by)/2);ctx.rotate(ang);ctx.fillText(c[0],0,0);ctx.restore();});
  ctx.restore();
  const yT=Y.getPixelForValue(0),yB=Y.getPixelForValue(.5);
  o.coil.forEach(s=>{const l=X.getPixelForValue(s[0]),r=X.getPixelForValue(s[1]);
   const gr=ctx.createLinearGradient(X.getPixelForValue(s[2]-s[3]),0,X.getPixelForValue(s[2]+s[3]),0);
   gr.addColorStop(0,'#c8c8c8');gr.addColorStop(.5,'#4e4e4e');gr.addColorStop(1,'#c8c8c8');
   ctx.fillStyle=gr;ctx.fillRect(l,yT,r-l,yB-yT);ctx.strokeStyle='#1c1c1c';ctx.lineWidth=1;ctx.strokeRect(l,yT,r-l,yB-yT);});
  ctx.strokeStyle='#858585';ctx.lineWidth=1.4;ctx.strokeRect(ca.left,ca.top,ca.right-ca.left,ca.bottom-ca.top);
  ctx.strokeStyle='#333';ctx.lineWidth=.7;ctx.beginPath();
  X.ticks.forEach(t=>{const p=X.getPixelForValue(t.value);[ca.top,ca.bottom].forEach(e=>{ctx.moveTo(p,e-2);ctx.lineTo(p,e+1.5);});});
  Y.ticks.forEach(t=>{const p=Y.getPixelForValue(t.value);[ca.left,ca.right].forEach(e=>{ctx.moveTo(e-1.5,p);ctx.lineTo(e+1.5,p);});});
  ctx.stroke();
 }};

function fitTo(w,h){return s=>{s.paddingLeft=s.paddingRight=s.paddingTop=s.paddingBottom=0; if(w!==null)s.width=w; if(h!==null)s.height=h;}}
function place(l,t,w,h){const c=document.createElement('canvas');c.width=w;c.height=h;c.style.cssText=`left:${l}px;top:${t}px;width:${w}px;height:${h}px`;page.appendChild(c);return c}

panels.forEach(([row,col,kind,xs,ys,z,contours,coil,xr])=>{
 const L=Math.floor(colL[col])-36,R=Math.ceil(colR[col])+14,T=Math.floor(rowT[row])-6,B=Math.ceil(rowB[row])+22;
 const c=place(L,T,R-L,B-T);
 const cells=[];ys.forEach((y,j)=>xs.forEach((x,i)=>cells.push({x,y,v:z[j][i]})));
 const isWhite=kind==='d';
 const ds=[{label:'cells',data:cells,pointRadius:0,showLine:false,grid:{xs,ys,z,kind},contours,coil}];
 contours.forEach(ct=>ct.slice(1).forEach(seg=>ds.push({label:ct[0],data:seg.map(p=>({x:p[0],y:p[1]})),showLine:true,pointRadius:0,
   borderColor:isWhite?'#fff':'#111',borderWidth:isWhite?.95:1.15,tension:.4,fill:false})));
 new Chart(c,{type:'scatter',data:{datasets:ds},plugins:[panelPlugin],options:{
  responsive:false,animation:false,events:[],
  layout:{padding:{left:colL[col]-L-30,right:R-colR[col],top:rowT[row]-T,bottom:0}},
  plugins:{legend:{display:false},tooltip:{enabled:false},title:{display:false}},
  scales:{
   x:{type:'linear',min:xr[0],max:xr[1],bounds:'ticks',offset:false,grid:{display:false,drawTicks:false},border:{display:false},
      afterFit:fitTo(null,B-rowB[row]),
      ticks:{stepSize:.5,autoSkip:false,maxRotation:0,minRotation:0,padding:6,color:'#222',font:{size:11,family:FONT},
        callback:v=>(row%2===1&&Number.isInteger(v))?(v<0?'−'+(-v):String(v)):''}},
   y:{type:'linear',reverse:true,min:0,max:4,offset:false,grid:{display:false,drawTicks:false},border:{display:false},
      afterFit:fitTo(30,null),
      ticks:{stepSize:.5,autoSkip:false,padding:6,color:'#222',font:{size:11,family:FONT},
        callback:v=>(col===0&&Number.isInteger(v))?String(v):''}}
  }}});
});

// ---------- colour bars ----------
const barPlugin={id:'barPlugin',
 beforeDatasetsDraw(chart){const ca=chart.chartArea,X=chart.scales.x,ctx=chart.ctx,k=chart.data.datasets[0].kind;
  for(let p=Math.floor(ca.left);p<ca.right;p++){const v=X.getValueForPixel(p+.5);
   const t=k==='t'?(Math.log10(v)-3)/3.245:-v/100,c=(k==='t'?lutT:lutD)[Math.round(Math.min(1,Math.max(0,t))*512)];
   ctx.fillStyle=`rgb(${c[0]|0},${c[1]|0},${c[2]|0})`;ctx.fillRect(p,ca.top,1.2,ca.bottom-ca.top);}},
 afterDatasetsDraw(chart){const ca=chart.chartArea,X=chart.scales.x,ctx=chart.ctx;
  ctx.strokeStyle='#858585';ctx.lineWidth=1.4;ctx.strokeRect(ca.left,ca.top,ca.right-ca.left,ca.bottom-ca.top);
  ctx.strokeStyle='#222';ctx.lineWidth=.8;ctx.beginPath();
  X.ticks.forEach(t=>{const p=X.getPixelForValue(t.value);ctx.moveTo(p,ca.bottom);ctx.lineTo(p,ca.bottom+5);});ctx.stroke();}};
function colourBar(l,r,opts,kind,stops){
 const L=Math.floor(l)-30,R=Math.min(726,Math.ceil(r)+(kind==='t'?20:17)),T=686,B=719,top=690,bot=700;
 const c=place(L,T,R-L,B-T);
 new Chart(c,{type:'scatter',data:{datasets:[{label:'colour scale',kind,data:stops.map(s=>({x:kind==='t'?Math.pow(10,3+3.245*s[0]):-100*s[0],y:0})),pointRadius:0,showLine:false}]},plugins:[barPlugin],options:{
  responsive:false,animation:false,events:[],
  layout:{padding:{left:l-L,right:R-r,top:top-T,bottom:0}},
  plugins:{legend:{display:false},tooltip:{enabled:false}},
  scales:{y:{display:false,min:-1,max:1,afterFit:fitTo(0,null)},
   x:Object.assign({offset:false,grid:{display:false,drawTicks:false},border:{display:false},afterFit:fitTo(null,B-bot)},opts)}}});
}
colourBar(colL[0],colR[1],{type:'logarithmic',min:1000,max:1758000,
  afterBuildTicks:s=>{s.ticks=thresholdTicks.map(value=>({value}));},
  ticks:{autoSkip:false,maxRotation:0,minRotation:0,padding:7,color:'#222',font:{size:12,family:FONT},callback:v=>thresholdLabels[v]||''}},'t',thresholdStops);
colourBar(colL[2],colR[2],{type:'linear',min:-100,max:0,reverse:true,
  afterBuildTicks:s=>{s.ticks=differenceTicks.map(value=>({value}));},
  ticks:{autoSkip:false,maxRotation:0,minRotation:0,padding:7,color:'#222',font:{size:11.5,family:FONT},callback:v=>v===0?'0%':'−'+(-v)+'%'}},'d',differenceStops);

// ---------- text ----------
function text(html,x,y,size,extra,rot){const d=document.createElement('div');d.className='t'+(rot?' r':'');d.innerHTML=html;
 d.style.cssText=`left:${x}px;top:${y}px;font-size:${size}px;${extra||''}`;page.appendChild(d);}
text('Stimulation threshold',279,7,14,'font-weight:bold;letter-spacing:.6px');
text('Threshold difference (%)',611,7,14,'font-weight:bold;letter-spacing:.45px');
text(columnNames[0],172,23,12,'letter-spacing:.3px');
text(columnNames[1],387,23,12,'letter-spacing:.3px');
text(columnNames[2],611,23,12,'letter-spacing:.3px');
[246,461,676].forEach(y=>text('Lateral distance <i>x</i> (cm)',387,y,11.5,'letter-spacing:.2px'));
[[133,coilNames[0],.35],[349,coilNames[1],.4],[563,coilNames[2],.5]].forEach(a=>text(a[1],6,a[0],14,`font-weight:bold;letter-spacing:${a[2]}px`,true));
[85,182,300,397,514,612].forEach((y,i)=>text(rowNames[i],28,y,12,'letter-spacing:.2px',true));
[134,349,563].forEach(y=>text('Vertical distance <i>y</i> (cm)',47,y,11.5,'letter-spacing:.2px',true));
text('A/<i>μ</i>s',61,695,11);
</script></body></html>
